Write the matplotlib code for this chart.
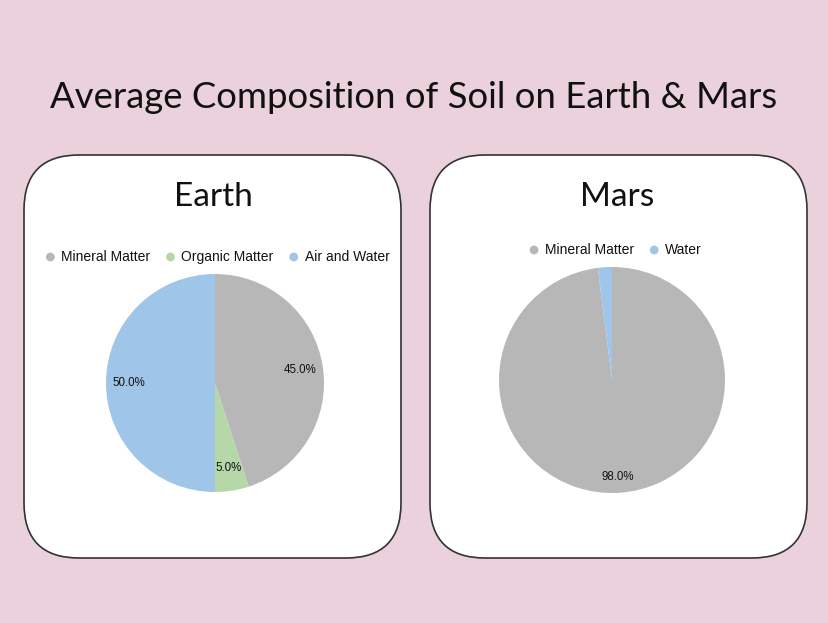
import matplotlib
matplotlib.use("Agg")
import matplotlib.pyplot as plt
from matplotlib.patches import FancyBboxPatch

# data
earth_labels = ["Mineral Matter", "Organic Matter", "Air and Water"]
earth_values = [45.0, 5.0, 50.0]
mars_labels = ["Mineral Matter", "Water"]
mars_values = [98.0, 2.0]

gray = "#b7b7b7"
green = "#b6d7a8"
blue = "#9fc5e8"
earth_colors = [gray, green, blue]
mars_colors = [gray, blue]

W, H = 829, 623
fig = plt.figure(figsize=(W / 100, H / 100), dpi=100)
fig.patch.set_facecolor("#ead1dc")

# pixel overlay for panels and text
bg = fig.add_axes([0, 0, 1, 1])
bg.set_xlim(0, W)
bg.set_ylim(H, 0)
bg.axis("off")

for x0 in (24, 430):
    box = FancyBboxPatch((x0, 155), 377, 403,
                         boxstyle="round,pad=0,rounding_size=55",
                         facecolor="white", edgecolor="#333333", lw=1.2)
    bg.add_patch(box)

bg.text(414, 97, "Average Composition of Soil on Earth & Mars", ha="center",
        va="center", fontsize=26.3, family="Lato", color="#111111")
bg.text(213, 197, "Earth", ha="center", va="center", fontsize=24,
        family="Lato", color="#111111")
bg.text(617, 197, "Mars", ha="center", va="center", fontsize=24,
        family="Lato", color="#111111")

renderer = fig.canvas.get_renderer()


def legend_row(labels, colors, cx, y):
    items = []
    total = 0
    for lab in labels:
        t = bg.text(0, y, lab, fontsize=10, family="Liberation Sans",
                    va="center", ha="left", color="#111111")
        w = t.get_window_extent(renderer).width
        items.append((t, w))
        total += 11 + w
    total += 16 * (len(labels) - 1)
    x = cx - total / 2
    for (t, w), c in zip(items, colors):
        bg.scatter([x + 4], [y], s=40, color=c, edgecolors="none")
        t.set_x(x + 15)
        x += 15 + w + 16


def draw_pie(values, colors, cx, cy, r, pctdist):
    ax = fig.add_axes([(cx - r) / W, 1 - (cy + r) / H, 2 * r / W, 2 * r / H])
    wedges, texts, autotexts = ax.pie(
        values, colors=colors, startangle=90, counterclock=False,
        autopct=lambda p: "%.1f%%" % p if p >= 3 else "",
        pctdistance=pctdist, wedgeprops=dict(linewidth=0),
        textprops=dict(fontsize=8.3, family="Liberation Sans", color="#111111"))
    ax.set_xlim(-1, 1)
    ax.set_ylim(-1, 1)
    ax.set_aspect("equal")
    return ax


legend_row(earth_labels, earth_colors, 212, 257)
legend_row(mars_labels, mars_colors, 612, 250)

draw_pie(earth_values, earth_colors, 215, 383, 109, 0.79)
draw_pie(mars_values, mars_colors, 612, 380, 113, 0.86)

fig.savefig("out.png", dpi=100, facecolor=fig.get_facecolor())
